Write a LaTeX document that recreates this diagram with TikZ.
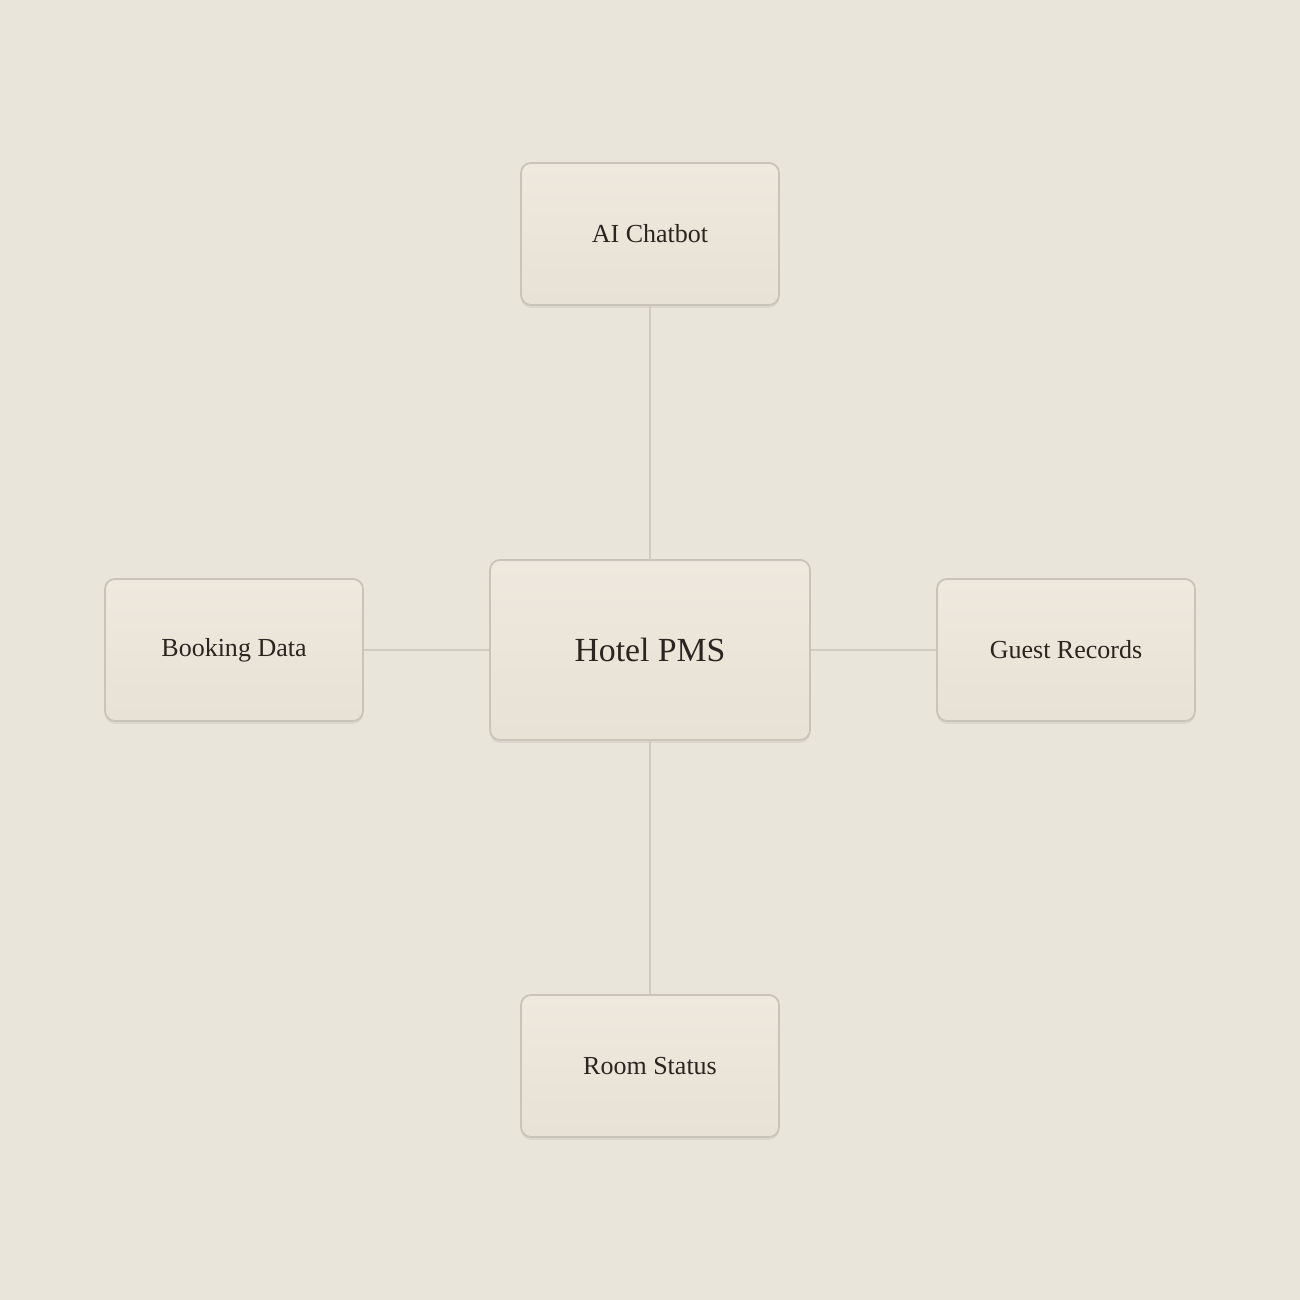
\documentclass[tikz,border=0pt]{standalone}
\usepackage{fontspec}
\setmainfont{Liberation Serif}
\usetikzlibrary{calc}
\usetikzlibrary{shadows}

\definecolor{paper}{HTML}{EAE5DB}
\definecolor{boxtop}{HTML}{EEE8DE}
\definecolor{boxbot}{HTML}{E8E1D5}
\definecolor{boxline}{HTML}{C9C3B8}
\definecolor{wire}{HTML}{D0CABF}
\definecolor{ink}{HTML}{2A2520}

\tikzset{
  card/.style={draw=boxline, line width=0.5pt, rounded corners=0.1cm,
    top color=boxtop, bottom color=boxbot, text=ink,
    minimum width=2.58cm, minimum height=1.42cm, inner sep=0pt,
    font=\fontsize{7.4}{9}\selectfont,
    drop shadow={shadow xshift=0cm, shadow yshift=-0.03cm, opacity=0.06, fill=black}},
  hub/.style={card, minimum width=3.2cm, minimum height=1.8cm,
    font=\fontsize{9.6}{11}\selectfont},
  link/.style={draw=wire, line width=0.4pt}
}

\begin{document}
\begin{tikzpicture}
\fill[paper] (0,0) rectangle (13,13);
\coordinate (O) at (6.5,6.5);

\node[hub] (pms) at (O) {Hotel PMS};
\node[card] (bot) at ($ (O)+(0,4.16) $) {AI Chatbot};
\node[card] (room) at ($ (O)+(0,-4.16) $) {Room Status};
\node[card] (book) at ($ (O)+(-4.16,0) $) {Booking Data};
\node[card] (guest) at ($ (O)+(4.16,0) $) {Guest Records};

\draw[link] (bot) -- (pms);
\draw[link] (pms) -- (room);
\draw[link] (book) -- (pms);
\draw[link] (pms) -- (guest);
\end{tikzpicture}
\end{document}
